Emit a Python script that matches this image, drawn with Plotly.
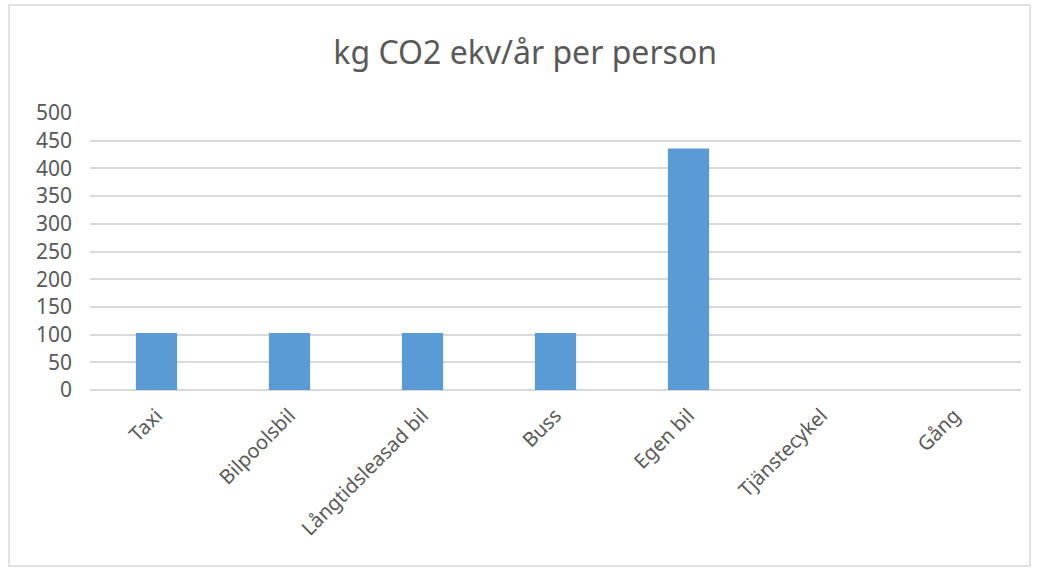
import plotly.graph_objects as go

categories = ["Taxi", "Bilpoolsbil", "Långtidsleasad bil", "Buss", "Egen bil", "Tjänstecykel", "Gång"]
values = [103, 103, 103, 103, 436, 0, 0]
y_ticks = [0, 50, 100, 150, 200, 250, 300, 350, 400, 450, 500]
title_text = "kg CO2 ekv/år per person"

W, H = 1038, 569
ml, mr, mt, mb = 90, 17, 113, 179
pw, ph = W - ml - mr, H - mt - mb

fig = go.Figure(go.Bar(x=categories, y=values, marker=dict(color="#5b9bd5", line=dict(width=0)), width=0.31))

font = "Noto Sans, Open Sans, sans-serif"
fig.update_layout(
    width=W, height=H,
    margin=dict(l=ml, r=mr, t=mt, b=mb),
    paper_bgcolor="white", plot_bgcolor="white",
    title=dict(text=title_text, x=0.506, xanchor="center",
               y=1 - 53 / H, yanchor="middle",
               font=dict(family=font, size=32, color="#595959")),
    showlegend=False,
    bargap=0.69,
    xaxis=dict(tickangle=-45, tickfont=dict(family=font, size=20, color="#595959"),
               showgrid=False, showline=False, ticks="", ticklabelstandoff=9),
    yaxis=dict(range=[0, 500], tickvals=y_ticks, tickfont=dict(family=font, size=21, color="#595959"),
               showgrid=True, gridcolor="#d9d9d9", gridwidth=1.5, zeroline=True, zerolinecolor="#d9d9d9",
               zerolinewidth=1.5, showline=False, ticks="", ticklabelstandoff=17),
    shapes=[dict(type="rect", xref="paper", yref="paper",
                 x0=(9 - ml) / pw, x1=(1030 - ml) / pw,
                 y0=-(566 - (H - mb)) / ph, y1=1 + (mt - 5) / ph,
                 line=dict(color="#d9d9d9", width=1.5), fillcolor="rgba(0,0,0,0)", layer="below")],
)

fig.write_html("out.html", config={"displayModeBar": False},
               post_script="document.body.style.margin='0';document.body.style.overflow='hidden';")
